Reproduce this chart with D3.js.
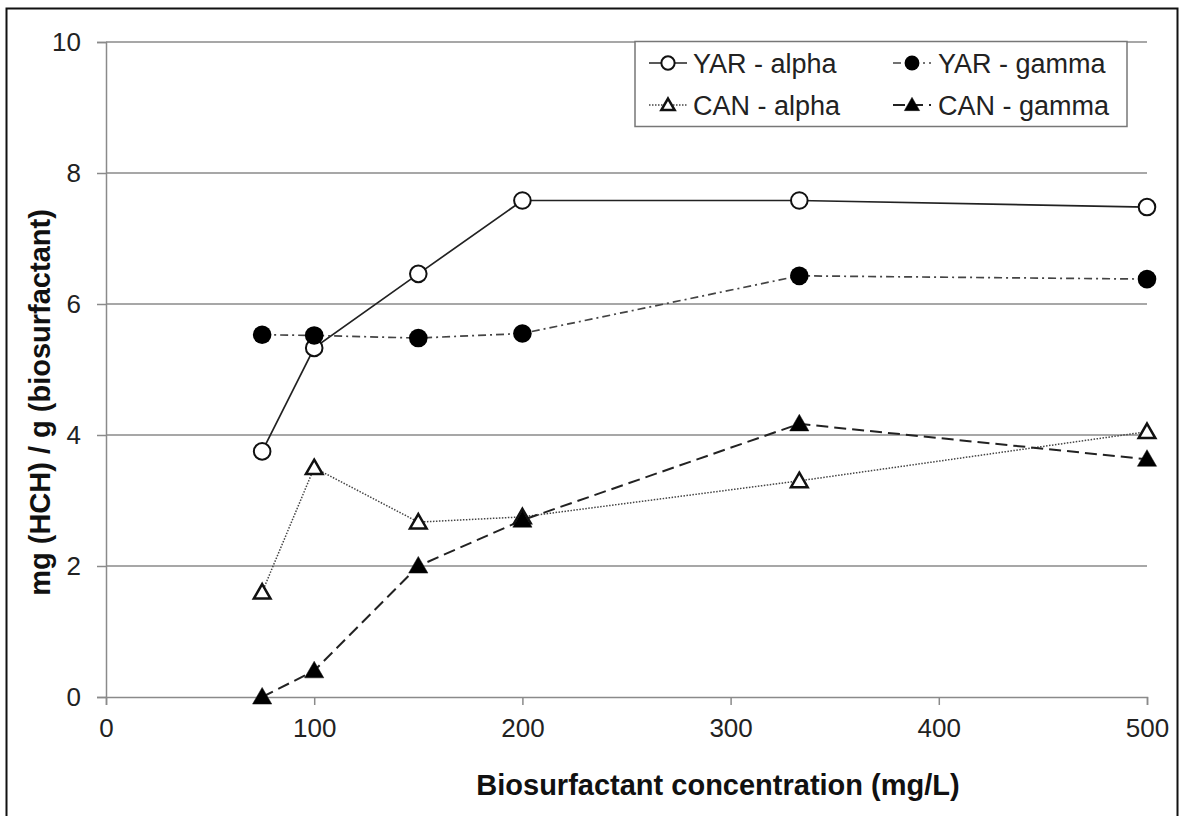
<!DOCTYPE html>
<html>
<head>
<meta charset="utf-8">
<script src="https://cdn.jsdelivr.net/npm/d3@7"></script>
<style>
  html, body { margin: 0; padding: 0; background: #fff; }
  svg { display: block; font-family: "Liberation Sans", Arial, sans-serif; }
</style>
</head>
<body>
<svg id="chart" width="1179" height="816"></svg>
<script>
// Biosurfactant concentration (mg/L)
const concentrations = [75, 100, 150, 200, 333, 500];

// mg (HCH) / g (biosurfactant)
const yarAlpha = [3.75, 5.33, 6.46, 7.58, 7.58, 7.48];
const yarGamma = [5.53, 5.52, 5.48, 5.55, 6.43, 6.38];
const canAlpha = [1.60, 3.50, 2.67, 2.75, 3.30, 4.05];
const canGamma = [0.00, 0.40, 2.00, 2.70, 4.17, 3.63];

const xTicks = [0, 100, 200, 300, 400, 500];
const yTicks = [0, 2, 4, 6, 8, 10];

const seriesList = [
  { name: "YAR - alpha", values: yarAlpha, marker: "circle", filled: false, dash: null, width: 1.7, stroke: "#222" },
  { name: "YAR - gamma", values: yarGamma, marker: "circle", filled: true, dash: "8,4,2,4", width: 1.7, stroke: "#444" },
  { name: "CAN - alpha", values: canAlpha, marker: "triangle", filled: false, dash: "1.5,1.5", width: 1.5, stroke: "#444" },
  { name: "CAN - gamma", values: canGamma, marker: "triangle", filled: true, dash: "12,6", width: 2, stroke: "#222" }
];

const FONT = "'Liberation Sans', Arial, sans-serif";
const svg = d3.select("#chart");

// outer frame
svg.append("rect")
  .attr("x", 6.5).attr("y", 8.5)
  .attr("width", 1171).attr("height", 820)
  .attr("fill", "none").attr("stroke", "#111").attr("stroke-width", 2);

const plot = { left: 106, right: 1147, top: 42, bottom: 697 };

const x = d3.scaleLinear().domain([0, 500]).range([plot.left, plot.right]);
const y = d3.scaleLinear().domain([0, 10]).range([plot.bottom, plot.top]);

// horizontal gridlines
svg.append("g")
  .selectAll("line")
  .data(yTicks.filter(d => d > 0))
  .join("line")
  .attr("x1", plot.left).attr("x2", plot.right)
  .attr("y1", d => y(d)).attr("y2", d => y(d))
  .attr("stroke", "#8a8a8a").attr("stroke-width", 1.5);

// y axis
const yAxis = svg.append("g")
  .attr("transform", `translate(${plot.left},0)`)
  .call(d3.axisLeft(y).tickValues(yTicks).tickSize(9).tickPadding(16).tickFormat(d3.format("d")));
yAxis.select(".domain").attr("stroke", "#8a8a8a").attr("stroke-width", 1.5);
yAxis.selectAll(".tick line").attr("stroke", "#8a8a8a").attr("stroke-width", 1.5);
yAxis.selectAll(".tick text")
  .attr("font-size", 26).attr("fill", "#222").attr("font-family", FONT);

// x axis
const xAxis = svg.append("g")
  .attr("transform", `translate(0,${plot.bottom})`)
  .call(d3.axisBottom(x).tickValues(xTicks).tickSize(8).tickPadding(14).tickFormat(d3.format("d")));
xAxis.select(".domain").attr("stroke", "#8a8a8a").attr("stroke-width", 1.5);
xAxis.selectAll(".tick line").attr("stroke", "#8a8a8a").attr("stroke-width", 1.5);
xAxis.selectAll(".tick text")
  .attr("font-size", 26).attr("fill", "#222").attr("font-family", FONT);

// axis titles
svg.append("text")
  .attr("x", 718).attr("y", 795)
  .attr("text-anchor", "middle")
  .attr("font-size", 29).attr("font-weight", "bold").attr("fill", "#111")
  .text("Biosurfactant concentration (mg/L)");

svg.append("text")
  .attr("transform", `translate(50,${(plot.top + plot.bottom) / 2 + 33}) rotate(-90)`)
  .attr("text-anchor", "middle")
  .attr("font-size", 29).attr("font-weight", "bold").attr("fill", "#111")
  .text("mg (HCH) / g (biosurfactant)");

function drawMarker(g, s, cx, cy, scale) {
  const k = scale || 1;
  if (s.marker === "circle") {
    g.append("circle")
      .attr("cx", cx).attr("cy", cy).attr("r", s.filled ? 9.3 * k : 8.3 * k)
      .attr("fill", s.filled ? "#000" : "#fff")
      .attr("stroke", "#111").attr("stroke-width", s.filled ? 0 : 2);
  } else {
    const tri = d3.symbol().type(d3.symbolTriangle).size(s.filled ? 160 * k * k : 120 * k * k);
    g.append("path")
      .attr("d", tri())
      .attr("transform", `translate(${cx},${cy + 1.5 * k})`)
      .attr("fill", s.filled ? "#000" : "#fff")
      .attr("stroke", "#111").attr("stroke-width", s.filled ? 0.5 : 2.5)
      .attr("stroke-linejoin", "miter");
  }
}

const line = d3.line().x(d => x(d[0])).y(d => y(d[1]));

const seriesG = svg.append("g");
seriesList.forEach(s => {
  const pts = concentrations.map((c, i) => [c, s.values[i]]);
  seriesG.append("path")
    .attr("d", line(pts))
    .attr("fill", "none")
    .attr("stroke", s.stroke)
    .attr("stroke-width", s.width)
    .attr("stroke-dasharray", s.dash);
});
seriesList.forEach(s => {
  const g = seriesG.append("g");
  concentrations.forEach((c, i) => drawMarker(g, s, x(c), y(s.values[i])));
});

// legend
const legend = svg.append("g");
legend.append("rect")
  .attr("x", 635).attr("y", 41.5).attr("width", 492).attr("height", 85)
  .attr("fill", "#fff").attr("stroke", "#777").attr("stroke-width", 1.5);

const legendPos = [
  { lx: 649, tx: 693, cy: 63 },
  { lx: 893, tx: 938, cy: 63 },
  { lx: 649, tx: 693, cy: 105 },
  { lx: 893, tx: 938, cy: 105 }
];
seriesList.forEach((s, j) => {
  const p = legendPos[j];
  const g = legend.append("g");
  g.append("line")
    .attr("x1", p.lx).attr("x2", p.lx + 38)
    .attr("y1", p.cy).attr("y2", p.cy)
    .attr("stroke", s.stroke).attr("stroke-width", s.width)
    .attr("stroke-dasharray", s.dash);
  drawMarker(g, s, p.lx + 19, p.cy, 0.8);
  g.append("text")
    .attr("x", p.tx).attr("y", p.cy + 9.5)
    .attr("font-size", 27).attr("fill", "#222").attr("font-family", FONT)
    .text(s.name);
});
</script>
</body>
</html>
